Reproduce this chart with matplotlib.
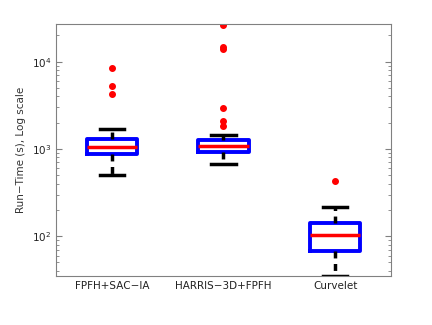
import numpy as np
import matplotlib.pyplot as plt

labels = ['FPFH+SAC\u2212IA', 'HARRIS\u22123D+FPFH', 'Curvelet']
q1 = [883, 916, 67.3]
med = [1055, 1091, 102]
q3 = [1300, 1258, 142]
whislo = [503, 668, 35]
whishi = [1683, 1435, 217]
fliers = [
    [8490, 5290, 4280],
    [26000, 14800, 13900, 2950, 2090, 1850],
    [427],
]

stats = []
for i in range(len(labels)):
    stats.append(dict(label=labels[i], q1=q1[i], med=med[i], q3=q3[i],
                      whislo=whislo[i], whishi=whishi[i], fliers=fliers[i]))

fig = plt.figure(figsize=(4.32, 3.25), dpi=100)
ax = fig.add_axes([0.1296, 0.1508, 0.7755, 0.7754])

ax.bxp(stats, positions=[1, 2, 3], widths=0.45,
       boxprops=dict(color='blue', linewidth=2.8),
       medianprops=dict(color='red', linewidth=2.5),
       whiskerprops=dict(color='black', linewidth=2.5, linestyle=(0, (2, 1.6))),
       capprops=dict(color='black', linewidth=2.5),
       capwidths=0.22,
       flierprops=dict(marker='o', markerfacecolor='red', markeredgecolor='red',
                       markersize=4))

ax.set_yscale('log')
ax.set_ylim(35, 27000)
ax.set_xlim(0.5, 3.5)
ax.set_ylabel('Run\u2212Time (s), Log scale', fontsize=7.5, color='#333333')

for s in ax.spines.values():
    s.set_color('#808080')
ax.tick_params(axis='both', which='both', direction='in', colors='#808080',
               labelcolor='#222222', labelsize=7.5, right=True, top=False)
ax.tick_params(axis='x', length=0)
ax.tick_params(axis='y', which='major', length=4)
ax.tick_params(axis='y', which='minor', length=2)

fig.savefig('out.png', dpi=100)
